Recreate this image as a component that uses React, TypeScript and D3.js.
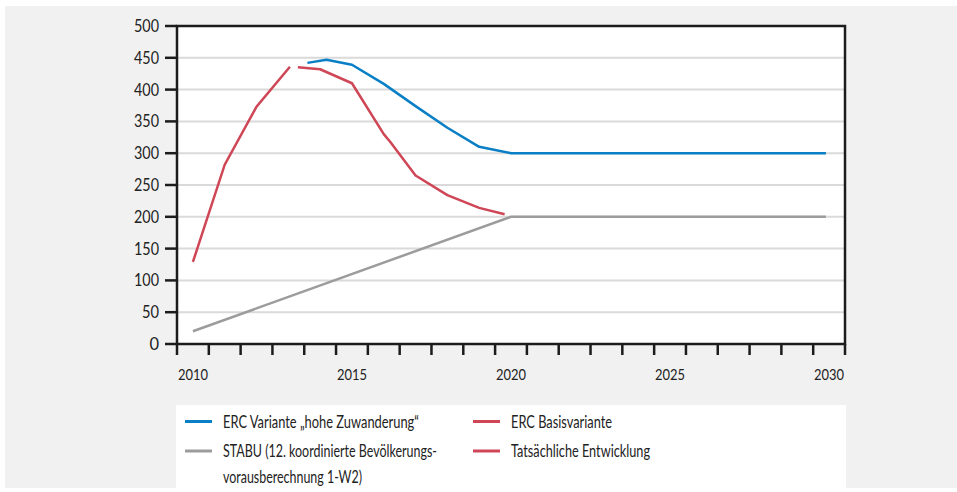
import { scaleLinear, line, range } from "d3";

// Tatsächliche Entwicklung
const actualYears = [2010, 2011, 2012, 2013.05];
const actualValues = [129, 282, 373, 436];

// ERC Basisvariante
const basisYears = [2013.3, 2014, 2015, 2016, 2016.2, 2017, 2018, 2019, 2019.8];
const basisValues = [435, 432, 410, 330, 318, 265, 234, 214, 204];

// ERC Variante "hohe Zuwanderung"
const highYears = [2013.6, 2014.2, 2015, 2016, 2017, 2018, 2019, 2020, 2021, 2022, 2023, 2024, 2025, 2026, 2027, 2028, 2029, 2029.9];
const highValues = [442, 447, 439, 409, 374, 340, 310, 300, 300, 300, 300, 300, 300, 300, 300, 300, 300, 300];

// STABU (12. koordinierte Bevölkerungsvorausberechnung 1-W2)
const stabuYears = [2010, 2020, 2021, 2022, 2023, 2024, 2025, 2026, 2027, 2028, 2029, 2029.9];
const stabuValues = [20, 200, 200, 200, 200, 200, 200, 200, 200, 200, 200, 200];

const yTicks = [0, 50, 100, 150, 200, 250, 300, 350, 400, 450, 500];
const xLabels = [2010, 2015, 2020, 2025, 2030];

const BLUE = "#0a7fc6";
const RED = "#cf4656";
const GREY = "#9c9c9c";
const FONT = "Lato, 'Open Sans', sans-serif";

const legendItems = [
  { label: ["ERC Variante „hohe Zuwanderung“"], widths: [196], color: BLUE, col: 0, row: 0 },
  { label: ["ERC Basisvariante"], widths: [101], color: RED, col: 1, row: 0 },
  { label: ["STABU (12. koordinierte Bevölkerungs-", "vorausberechnung 1-W2)"], widths: [214, 139], color: GREY, col: 0, row: 1 },
  { label: ["Tatsächliche Entwicklung"], widths: [139], color: RED, col: 1, row: 1 },
];

export default function App() {
  const width = 957;
  const height = 492;
  const plot = { left: 177, right: 845, top: 26, bottom: 344 };

  const x = scaleLinear().domain([2009.5, 2030.5]).range([plot.left, plot.right]);
  const y = scaleLinear().domain([0, 500]).range([plot.bottom, plot.top]);

  const mk = (xs: number[], vs: number[]) =>
    line<number>()
      .x((_, i) => x(xs[i]))
      .y((d) => y(d))(vs) as string;

  const xTicks = range(2009.5, 2031, 1);
  const swatchX = [185, 473];
  const textX = [223, 511];
  const rowY = [421.5, 451];
  const baseY = [427.5, 457];

  return (
    <svg width={width} height={height} style={{ position: "absolute", left: 0, top: 0 }} fontFamily={FONT}>
      <rect x={5} y={6} width={width - 5} height={482} fill="#f1f1f1" />
      <rect x={plot.left} y={plot.top} width={plot.right - plot.left} height={plot.bottom - plot.top} fill="#fff" />
      {yTicks.slice(1, -1).map((t) => (
        <line key={t} x1={plot.left} x2={plot.right} y1={y(t)} y2={y(t)} stroke="#dadada" strokeWidth={2} />
      ))}

      <path d={mk(stabuYears, stabuValues)} fill="none" stroke={GREY} strokeWidth={2.5} />
      <path d={mk(actualYears, actualValues)} fill="none" stroke={RED} strokeWidth={2.5} />
      <path d={mk(basisYears, basisValues)} fill="none" stroke={RED} strokeWidth={2.5} strokeLinejoin="round" />
      <path d={mk(highYears, highValues)} fill="none" stroke={BLUE} strokeWidth={2.5} strokeLinejoin="round" />

      <rect x={plot.left} y={plot.top} width={plot.right - plot.left} height={plot.bottom - plot.top} fill="none" stroke="#1c1c1c" strokeWidth={2.5} />

      {yTicks.map((t) => (
        <g key={t}>
          <line x1={plot.left - 12} x2={plot.left} y1={y(t)} y2={y(t)} stroke="#1c1c1c" strokeWidth={2.5} />
          <text x={plot.left - 18} y={y(t)} dy="0.36em" textAnchor="end" fontSize={16.5} fill="#222" textLength={t === 0 ? undefined : t < 100 ? 17 : 25} lengthAdjust="spacingAndGlyphs">
            {t}
          </text>
        </g>
      ))}
      {xTicks.map((t) => (
        <line key={t} x1={x(t)} x2={x(t)} y1={plot.bottom} y2={plot.bottom + 11} stroke="#1c1c1c" strokeWidth={2.5} />
      ))}
      {xLabels.map((t) => (
        <text key={t} x={x(t)} y={380} textAnchor="middle" fontSize={15} fill="#222" textLength={30} lengthAdjust="spacingAndGlyphs">
          {t}
        </text>
      ))}

      <rect x={176} y={405} width={670} height={83} fill="#fff" />
      {legendItems.map((it, i) => (
        <g key={i}>
          <line x1={swatchX[it.col]} x2={swatchX[it.col] + 27} y1={rowY[it.row]} y2={rowY[it.row]} stroke={it.color} strokeWidth={3} />
          {it.label.map((l, j) => (
            <text key={j} x={textX[it.col]} y={baseY[it.row] + j * 26} fontSize={17} fill="#222" textLength={it.widths[j]} lengthAdjust="spacingAndGlyphs">
              {l}
            </text>
          ))}
        </g>
      ))}
    </svg>
  );
}
